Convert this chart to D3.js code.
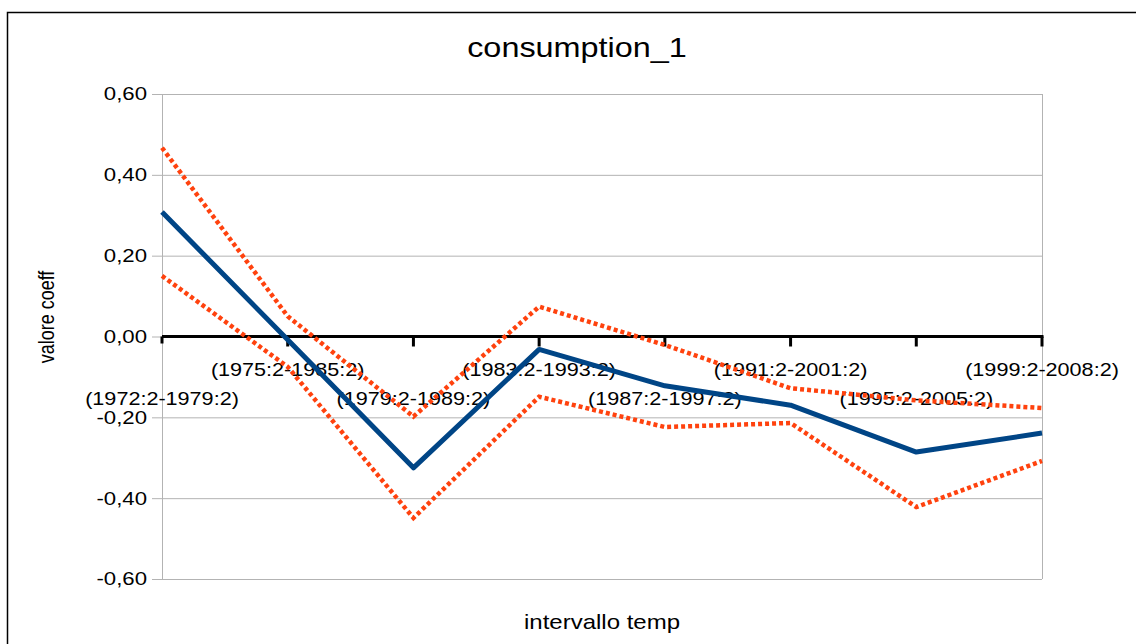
<!DOCTYPE html>
<html>
<head>
<meta charset="utf-8">
<script src="https://cdn.jsdelivr.net/npm/d3@7"></script>
<style>
  body { margin: 0; background: #fff; }
  text { font-family: "Liberation Sans", Arial, sans-serif; fill: #000; }
</style>
</head>
<body>
<svg id="chart" width="1136" height="644"></svg>
<script>
var categories = ["(1972:2-1979:2)", "(1975:2-1985:2)", "(1979:2-1989:2)", "(1983:2-1993:2)",
                  "(1987:2-1997:2)", "(1991:2-2001:2)", "(1995:2-2005:2)", "(1999:2-2008:2)"];
var coeff = [0.308, -0.008, -0.325, -0.032, -0.122, -0.170, -0.286, -0.239];
var upper = [0.467, 0.050, -0.198, 0.074, -0.021, -0.128, -0.158, -0.177];
var lower = [0.150, -0.075, -0.449, -0.149, -0.224, -0.214, -0.422, -0.308];
var yTicks = [0.6, 0.4, 0.2, 0, -0.2, -0.4, -0.6];

var plotLeft = 162, plotRight = 1042, plotTop = 94, plotBottom = 579;
var stretch = 1.2;  // text in the picture is wider than it is tall

var svg = d3.select("#chart");

// chart border
svg.append("rect")
   .attr("x", 7.5).attr("y", 12.5)
   .attr("width", 1200).attr("height", 700)
   .attr("fill", "none").attr("stroke", "#000").attr("stroke-width", 1.5);

var x = d3.scalePoint().domain(categories).range([plotLeft, plotRight]);
var y = d3.scaleLinear().domain([-0.6, 0.6]).range([plotBottom, plotTop]);

var fmt = function(d) { return d3.format(".2f")(d).replace(".", ",").replace("−", "-"); };
var place = function(px, py) { return "translate(" + px + "," + py + ") scale(" + stretch + ",1)"; };

// horizontal grid
svg.append("g")
   .selectAll("line")
   .data(yTicks)
   .enter()
   .append("line")
   .attr("x1", plotLeft - 10).attr("x2", plotRight)
   .attr("y1", function(d) { return y(d) + 0.5; })
   .attr("y2", function(d) { return y(d) + 0.5; })
   .attr("stroke", "#b3b3b3").attr("stroke-width", 1);

// y axis line and right edge
svg.append("line")
   .attr("x1", plotLeft + 0.5).attr("x2", plotLeft + 0.5)
   .attr("y1", y(0.6)).attr("y2", y(-0.6))
   .attr("stroke", "#b3b3b3");
svg.append("line")
   .attr("x1", plotRight + 0.5).attr("x2", plotRight + 0.5)
   .attr("y1", y(0.6)).attr("y2", y(-0.6))
   .attr("stroke", "#b3b3b3");

// y tick labels
svg.append("g")
   .selectAll("text")
   .data(yTicks)
   .enter()
   .append("text")
   .text(fmt)
   .attr("transform", function(d) { return place(plotLeft - 15, y(d)); })
   .attr("dy", "0.35em")
   .attr("text-anchor", "end")
   .attr("font-size", "18.5px");

// x axis at zero
svg.append("line")
   .attr("x1", plotLeft).attr("x2", plotRight + 1.5)
   .attr("y1", y(0)).attr("y2", y(0))
   .attr("stroke", "#000").attr("stroke-width", 3);

svg.append("g")
   .selectAll("line")
   .data(categories)
   .enter()
   .append("line")
   .attr("x1", function(d) { return x(d); })
   .attr("x2", function(d) { return x(d); })
   .attr("y1", y(0))
   .attr("y2", function(d, i) { return i == 0 ? y(0) + 7 : y(0) + 10; })
   .attr("stroke", "#000").attr("stroke-width", 3);

// x labels, staggered
svg.append("g")
   .selectAll("text")
   .data(categories)
   .enter()
   .append("text")
   .text(function(d) { return d; })
   .attr("transform", function(d, i) { return place(x(d), i % 2 == 0 ? 399 : 370); })
   .attr("dy", "0.35em")
   .attr("text-anchor", "middle")
   .attr("font-size", "18px");

// series lines
var line = d3.line()
   .x(function(d, i) { return x(categories[i]); })
   .y(function(d) { return y(d); });

[upper, lower].forEach(function(s) {
    svg.append("path")
       .datum(s)
       .attr("d", line)
       .attr("fill", "none")
       .attr("stroke", "#ff420e")
       .attr("stroke-width", 4.5)
       .attr("stroke-dasharray", "4,3");
});

svg.append("path")
   .datum(coeff)
   .attr("d", line)
   .attr("fill", "none")
   .attr("stroke", "#004586")
   .attr("stroke-width", 5)
   .attr("stroke-linejoin", "round");

// titles
svg.append("text")
   .text("consumption_1")
   .attr("transform", place(577, 48))
   .attr("dy", "0.35em")
   .attr("text-anchor", "middle")
   .attr("font-size", "27px");

svg.append("text")
   .text("intervallo temp")
   .attr("transform", place((plotLeft + plotRight) / 2, 622))
   .attr("dy", "0.35em")
   .attr("text-anchor", "middle")
   .attr("font-size", "20px");

svg.append("text")
   .text("valore coeff")
   .attr("transform", place(46, 317) + " rotate(-90)")
   .attr("dy", "0.35em")
   .attr("text-anchor", "middle")
   .attr("font-size", "18px");
</script>
</body>
</html>
